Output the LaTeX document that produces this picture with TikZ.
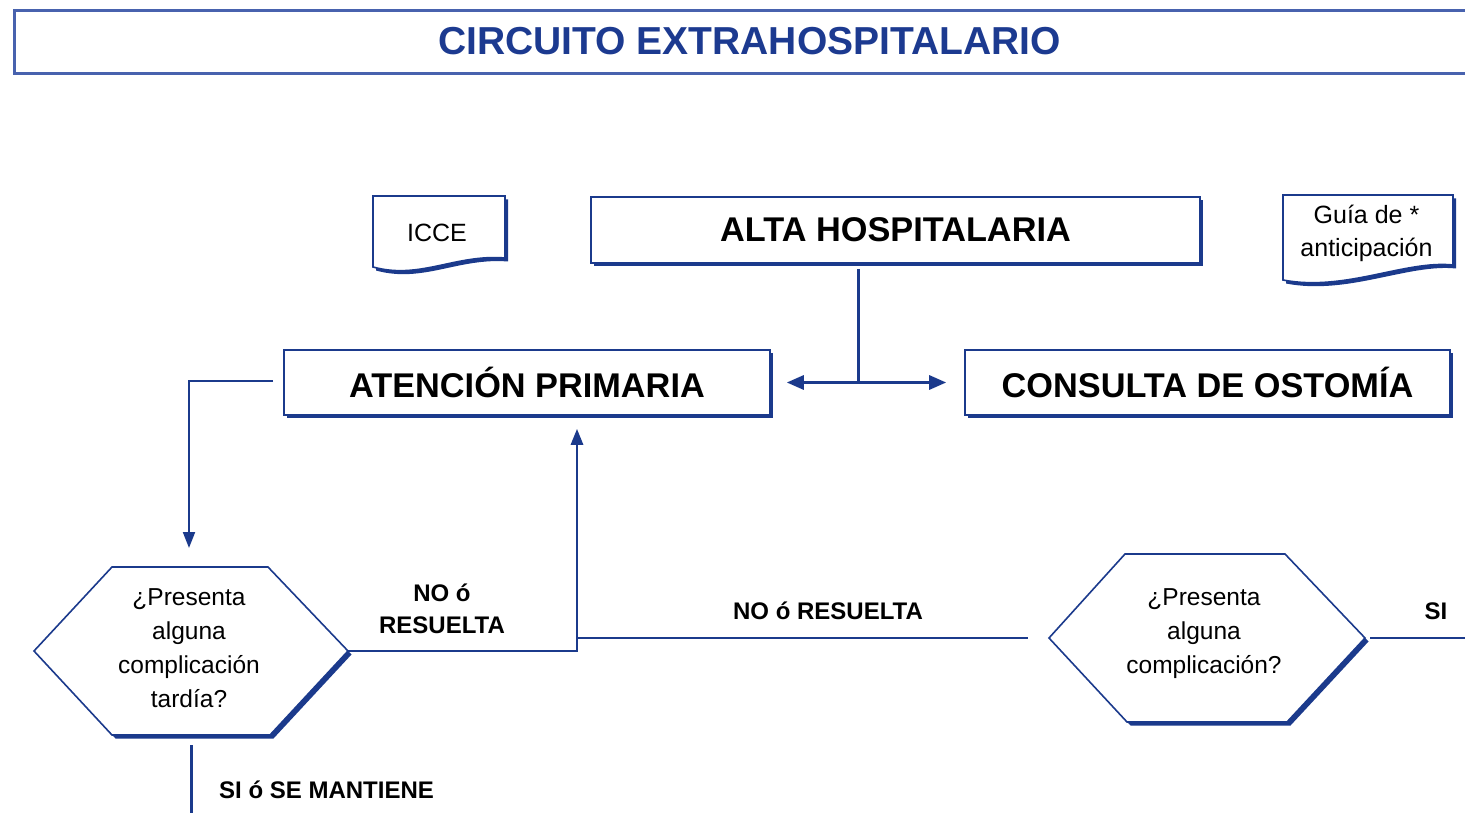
\documentclass[tikz,border=0pt]{standalone}
\usepackage{fontspec}
\setmainfont{Liberation Sans}
\usetikzlibrary{arrows.meta,shadows,calc}
\definecolor{dblue}{HTML}{1B3A8C}
\definecolor{tblue}{HTML}{1C3A90}
\definecolor{mblue}{HTML}{4862AE}
\begin{document}
\begin{tikzpicture}[x=1pt,y=-1pt,
  box/.style={draw=dblue, line width=1.6pt, fill=white, inner sep=0pt,
    drop shadow={shadow xshift=2.6pt, shadow yshift=-2.6pt, fill=dblue, opacity=1},
    font=\bfseries\fontsize{34.3}{40}\selectfont},
  shapeb/.style={draw=dblue, line width=1.6pt, fill=white},
  qtext/.style={align=center, inner sep=0pt, font=\fontsize{24.5}{34}\selectfont},
  doctext/.style={align=center, inner sep=0pt, font=\fontsize{25}{33}\selectfont},
  lbl/.style={align=center, inner sep=0pt, font=\bfseries\fontsize{24}{32}\selectfont},
  conn/.style={draw=dblue, line width=2.5pt},
  tipA/.style={-{Triangle[length=17pt,width=14pt]}},
  tipB/.style={-{Triangle[length=16pt,width=12pt]}}
]
\useasboundingbox (0,0) rectangle (1465,813);
\fill[white] (0,0) rectangle (1465,813);

% title
\node[draw=mblue, line width=2.6pt, minimum width=1480pt, minimum height=63pt,
      anchor=north west, inner sep=0pt] (titlebox) at (13,9) {};
\node[inner sep=0pt, text=tblue, font=\bfseries\fontsize{39}{46}\selectfont] (title) at (749.5,41) {CIRCUITO EXTRAHOSPITALARIO};

% main boxes
\node[box, minimum width=609pt, minimum height=66pt] (alta) at (895.5,230) {ALTA HOSPITALARIA};
\node[box, minimum width=486pt, minimum height=65pt] (ap) at (527,382.5) {ATENCIÓN PRIMARIA};
\node[box, minimum width=485pt, minimum height=65pt] (co) at (1207.5,382.5) {CONSULTA DE OSTOMÍA};

% document shapes
\begin{scope}[shift={(3,3.5)}]
  \fill[dblue] (373,196) -- (505,196) -- (505,258) .. controls (455,254) and (420,280) .. (373,267) -- cycle;
  \fill[dblue] (1283,195) -- (1453,195) -- (1453,265) .. controls (1405,260) and (1345,292) .. (1283,280) -- cycle;
\end{scope}
\filldraw[shapeb] (373,196) -- (505,196) -- (505,258) .. controls (455,254) and (420,280) .. (373,267) -- cycle;
\filldraw[shapeb] (1283,195) -- (1453,195) -- (1453,265) .. controls (1405,260) and (1345,292) .. (1283,280) -- cycle;
\node[doctext] (icce) at (437,233) {ICCE};
\node[doctext] (guia) at (1366.5,233.5) {Guía de *\\anticipación};

% hexagons
\begin{scope}[shift={(3.5,3.5)}]
  \fill[dblue] (34,651) -- (112,567) -- (268,567) -- (348,651) -- (270,735) -- (112,735) -- cycle;
  \fill[dblue] (1049,638) -- (1125,554) -- (1285,554) -- (1365,638) -- (1287,722) -- (1127,722) -- cycle;
\end{scope}
\filldraw[shapeb] (34,651) coordinate (h1L) -- (112,567) -- (268,567) -- (348,651) coordinate (h1R)
   -- (270,735) -- (112,735) -- cycle;
\filldraw[shapeb] (1049,638) coordinate (h2L) -- (1125,554) -- (1285,554) -- (1365,638) coordinate (h2R)
   -- (1287,722) -- (1127,722) -- cycle;
\coordinate (h1T) at (189,567);
\coordinate (h1B) at (191,739);
\node[qtext] (q1) at (189,648) {¿Presenta\\alguna\\complicación\\tardía?};
\node[qtext] (q2) at (1204,634) {¿Presenta\\alguna\\complicación?};

% connectors
\coordinate (split) at (858,382.5);
\draw[conn, line width=3pt] ($(alta.south)+(-37.5,5)$) -- (split);
\draw[conn, line width=3pt, tipA] (split) -- ($(ap.east)+(16,0)$);
\draw[conn, line width=3pt, tipA] (split) -- ($(co.west)+(-18,0)$);

\draw[conn, line width=2pt, tipB] ($(ap.west)+(-10,-2)$) -| ($(h1T)+(0,-19)$);

\draw[conn, line width=2.8pt, tipB] (h1R) -| ($(ap.south)+(50,13)$);
\coordinate (jn) at (577,638);
\draw[conn] (jn) -- ($(h2L)+(-21,0)$);
\coordinate (offR) at (1475,638);
\draw[conn] ($(h2R)+(5,0)$) -- (offR);
\coordinate (offB) at (191,825);
\draw[conn, line width=3pt] ($(h1B)+(0,6)$) -- (offB);

% labels
\node[lbl] (l1) at (442,609) {NO ó\\RESUELTA};
\node[lbl] (l2) at (828,611) {NO ó RESUELTA};
\node[lbl] (l3) at (1436,611) {SI};
\node[lbl, anchor=west] (l4) at (219,790) {SI ó SE MANTIENE};
\end{tikzpicture}
\end{document}
